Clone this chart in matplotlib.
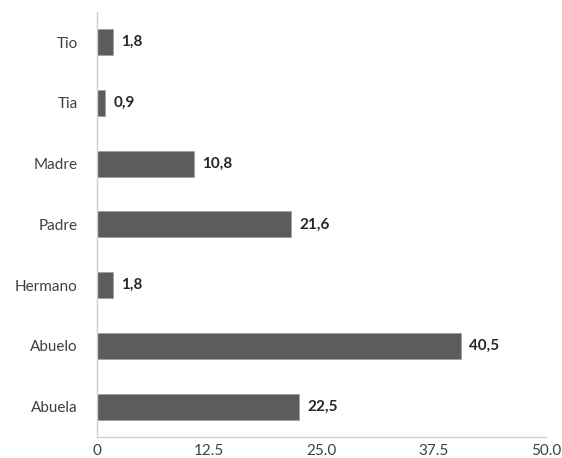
import matplotlib
matplotlib.use("Agg")
import matplotlib.pyplot as plt

# datos
categorias = ["Tio", "Tia", "Madre", "Padre", "Hermano", "Abuelo", "Abuela"]
valores = [1.8, 0.9, 10.8, 21.6, 1.8, 40.5, 22.5]
ticks_x = [0, 12.5, 25.0, 37.5, 50.0]
ticks_txt = ["0", "12.5", "25.0", "37.5", "50.0"]

plt.rcParams['font.family'] = ['Lato', 'DejaVu Sans']

fig = plt.figure(figsize=(5.62, 4.58), dpi=100)
ax = fig.add_axes([0.1726, 0.0459, 0.7989, 0.9281])

pos = list(range(len(categorias)))
ax.barh(pos, valores, height=0.43, color="#5c5c5c", edgecolor="#a0a0a0", linewidth=0.6)

for p, v in zip(pos, valores):
    ax.text(v + 0.9, p, ("%.1f" % v).replace(".", ","), va="center", ha="left",
            fontsize=11, fontweight="bold", color="#262626")

ax.set_ylim(6.5, -0.5)
ax.set_xlim(0, 50)
ax.set_yticks(pos)
ax.set_yticklabels(categorias, fontsize=11, color="#404040")
ax.set_xticks(ticks_x)
ax.set_xticklabels(ticks_txt, fontsize=11, color="#404040")
ax.tick_params(axis="both", length=0)
ax.tick_params(axis="y", pad=14)
ax.tick_params(axis="x", pad=5)

for s in ["top", "right"]:
    ax.spines[s].set_visible(False)
for s in ["left", "bottom"]:
    ax.spines[s].set_color("#d0d0d0")
    ax.spines[s].set_linewidth(1.0)

fig.savefig("out.png", dpi=100)
